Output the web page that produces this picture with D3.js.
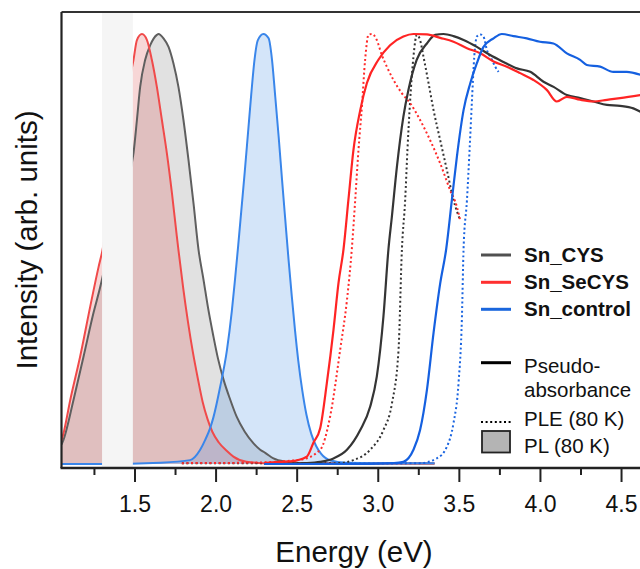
<!DOCTYPE html>
<html><head><meta charset="utf-8">
<script src="https://cdn.jsdelivr.net/npm/d3@7"></script>
<style>
html,body{margin:0;padding:0;background:#fff;}
svg{display:block;font-family:"Liberation Sans",Arial,Helvetica,sans-serif;}
</style></head>
<body><svg id="c" width="640" height="569"></svg>
<script>
// ---------- DATA (energy in eV, normalized intensity) ----------
const cysPL_E = [1.05,1.062,1.124,1.186,1.247,1.289,1.303,1.35,1.40,1.45,1.494,1.515,1.535,1.566,1.597,1.638,1.648,1.679,1.71,1.74,1.771,1.802,1.833,1.864,1.895,1.925,1.955,1.985,2.015,2.05,2.09,2.13,2.18,2.234,2.275,2.306,2.357,2.439,2.522,2.7,3.0,3.35];
const cysPL_I = [0.045,0.056,0.149,0.25,0.351,0.412,0.435,0.51,0.58,0.65,0.723,0.8,0.877,0.94,0.974,0.998,1.0,0.99,0.97,0.932,0.877,0.8,0.707,0.606,0.498,0.43,0.36,0.30,0.245,0.195,0.15,0.11,0.075,0.048,0.033,0.026,0.013,0.005,0.002,0.001,0.001,0.001];

const secysPL_E = [1.05,1.062,1.104,1.165,1.227,1.279,1.303,1.35,1.40,1.45,1.494,1.515,1.546,1.577,1.607,1.638,1.669,1.70,1.731,1.761,1.771,1.80,1.83,1.86,1.89,1.92,1.95,1.98,2.02,2.07,2.11,2.19,2.295,2.5,3.0,3.35];
const secysPL_I = [0.055,0.071,0.149,0.25,0.366,0.459,0.498,0.62,0.74,0.86,0.94,0.986,1.0,0.986,0.94,0.877,0.8,0.722,0.63,0.53,0.498,0.41,0.33,0.26,0.20,0.145,0.105,0.075,0.05,0.03,0.017,0.005,0.002,0.001,0.001,0.001];

const controlPL_E = [1.05,1.3,1.659,1.843,1.905,1.936,1.967,1.987,2.028,2.07,2.10,2.12,2.14,2.16,2.18,2.20,2.22,2.24,2.26,2.295,2.327,2.348,2.368,2.389,2.41,2.43,2.45,2.47,2.49,2.51,2.535,2.56,2.59,2.62,2.65,2.71,2.8,3.0,3.35];
const controlPL_I = [0.0,0.0,0.003,0.009,0.033,0.056,0.084,0.109,0.179,0.265,0.355,0.43,0.51,0.595,0.68,0.77,0.86,0.94,0.985,1.0,0.99,0.94,0.854,0.761,0.66,0.567,0.475,0.39,0.31,0.24,0.17,0.115,0.07,0.042,0.024,0.008,0.003,0.002,0.002];

const cysAbs_E = [2.3,2.45,2.55,2.645,2.727,2.81,2.892,2.953,2.994,3.035,3.066,3.087,3.118,3.158,3.189,3.24,3.303,3.354,3.405,3.467,3.529,3.611,3.693,3.775,3.858,3.94,4.022,4.084,4.166,4.248,4.33,4.413,4.494,4.576,4.62];
const cysAbs_I = [0.0,0.001,0.002,0.005,0.013,0.033,0.079,0.133,0.203,0.343,0.5,0.575,0.691,0.808,0.87,0.94,0.978,0.998,1.0,0.995,0.986,0.97,0.951,0.935,0.92,0.912,0.889,0.877,0.858,0.851,0.843,0.835,0.833,0.827,0.819];

const secysAbs_E = [2.3,2.355,2.459,2.562,2.604,2.645,2.686,2.727,2.758,2.789,2.819,2.85,2.892,2.933,3.004,3.076,3.158,3.22,3.303,3.385,3.467,3.55,3.632,3.714,3.796,3.878,3.96,4.042,4.104,4.166,4.248,4.33,4.413,4.494,4.62];
const secysAbs_I = [0.002,0.004,0.006,0.017,0.05,0.083,0.188,0.312,0.421,0.5,0.614,0.73,0.823,0.886,0.94,0.974,0.994,1.0,0.999,0.991,0.982,0.967,0.955,0.936,0.924,0.909,0.893,0.87,0.843,0.854,0.847,0.843,0.847,0.851,0.858];

const controlAbs_E = [2.3,2.8,3.1,3.158,3.22,3.261,3.303,3.344,3.385,3.422,3.457,3.488,3.529,3.57,3.611,3.652,3.714,3.765,3.837,3.919,4.0,4.083,4.166,4.248,4.289,4.371,4.453,4.535,4.62];
const controlAbs_I = [0.0,0.0,0.002,0.005,0.033,0.079,0.172,0.305,0.42,0.5,0.614,0.715,0.823,0.885,0.932,0.97,0.99,1.0,0.995,0.99,0.982,0.978,0.955,0.94,0.928,0.924,0.912,0.912,0.905];

const cysPLE_E = [1.792,2.2,2.748,2.85,2.953,3.035,3.087,3.128,3.149,3.169,3.183,3.2,3.22,3.241,3.261,3.282,3.313,3.344,3.385,3.426,3.467,3.508];
const cysPLE_I = [0.002,0.002,0.002,0.009,0.033,0.079,0.14,0.265,0.5,0.614,0.73,0.847,0.947,0.998,0.986,0.947,0.886,0.823,0.753,0.684,0.614,0.567];

const secysPLE_E = [1.792,2.213,2.522,2.645,2.706,2.768,2.81,2.84,2.861,2.881,2.902,2.922,2.943,2.964,2.994,3.025,3.056,3.097,3.149,3.2,3.261,3.323,3.385,3.446,3.488,3.508];
const secysPLE_I = [0.002,0.003,0.01,0.033,0.11,0.265,0.381,0.5,0.614,0.73,0.83,0.94,0.998,1.0,0.986,0.951,0.924,0.893,0.862,0.839,0.8,0.753,0.699,0.637,0.598,0.567];

const controlPLE_E = [2.6,3.0,3.261,3.364,3.426,3.467,3.498,3.519,3.529,3.55,3.566,3.581,3.595,3.611,3.632,3.652,3.673,3.704,3.724,3.745];
const controlPLE_I = [0.001,0.001,0.002,0.013,0.04,0.095,0.188,0.342,0.5,0.614,0.73,0.847,0.947,0.994,0.999,0.994,0.963,0.94,0.924,0.912];

const majorTicks = [1.5,2.0,2.5,3.0,3.5,4.0,4.5];
const minorTicks = [1.25,1.75,2.25,2.75,3.25,3.75,4.25];
const maskBand = [1.30,1.49];

const seriesNames = ["Sn_CYS","Sn_SeCYS","Sn_control"];
const typeNames = ["Pseudo-","absorbance","PLE (80 K)","PL (80 K)"];

// ---------- CHART ----------
const svg = d3.select("#c");
const L=61.5, R=640.5, T=12, B=468;
const x = d3.scaleLinear().domain([1.05,4.62]).range([L,R]);
const y = d3.scaleLinear().domain([0,1]).range([464,34]);

svg.append("defs").append("clipPath").attr("id","clip")
  .append("rect").attr("x",L).attr("y",T).attr("width",R-L).attr("height",B-T);

const g = svg.append("g").attr("clip-path","url(#clip)");
const zip = (E,I)=>E.map((e,i)=>[e,I[i]]);
const line = d3.line().x(d=>x(d[0])).y(d=>y(d[1])).curve(d3.curveMonotoneX);
const area = d3.area().x(d=>x(d[0])).y0(y(0)).y1(d=>y(d[1])).curve(d3.curveMonotoneX);

const pl = [
  {d:zip(cysPL_E,cysPL_I), fill:"#8c8c8c", stroke:"#5f5f5f"},
  {d:zip(secysPL_E,secysPL_I), fill:"#e06060", stroke:"#f04a4a"},
  {d:zip(controlPL_E,controlPL_I), fill:"#5a9be8", stroke:"#3a86ea"}
];
pl.forEach(s=>{
  g.append("path").datum(s.d).attr("d",area).attr("fill",s.fill).attr("fill-opacity",0.26);
});
pl.forEach(s=>{
  g.append("path").datum(s.d).attr("d",line).attr("fill","none").attr("stroke",s.stroke).attr("stroke-width",2);
});

const ple = [
  {d:zip(cysPLE_E,cysPLE_I), c:"#333333"},
  {d:zip(secysPLE_E,secysPLE_I), c:"#ff2a2a"},
  {d:zip(controlPLE_E,controlPLE_I), c:"#1a64e0"}
];
ple.forEach(s=>{
  g.append("path").datum(s.d).attr("d",line).attr("fill","none").attr("stroke",s.c)
    .attr("stroke-width",2).attr("stroke-dasharray","2,2.6");
});

const abs = [
  {d:zip(cysAbs_E,cysAbs_I), c:"#353535"},
  {d:zip(secysAbs_E,secysAbs_I), c:"#ff2424"},
  {d:zip(controlAbs_E,controlAbs_I), c:"#1560e0"}
];
abs.forEach(s=>{
  g.append("path").datum(s.d).attr("d",line).attr("fill","none").attr("stroke",s.c).attr("stroke-width",2.2);
});

// masking band
g.append("rect").attr("x",x(maskBand[0])).attr("width",x(maskBand[1])-x(maskBand[0]))
  .attr("y",T+1).attr("height",B-T-2).attr("fill","#f5f5f5");

// frame
svg.append("line").attr("x1",L).attr("x2",R).attr("y1",T).attr("y2",T).attr("stroke","#333").attr("stroke-width",1.8);
svg.append("line").attr("x1",L).attr("x2",L).attr("y1",T).attr("y2",B).attr("stroke","#222").attr("stroke-width",2.2);

// x axis
const ax = svg.append("g").attr("transform",`translate(0,${B})`)
  .call(d3.axisBottom(x).tickValues(majorTicks).tickSize(14).tickPadding(14).tickFormat(d3.format(".1f")));
ax.select(".domain").remove();
ax.append("line").attr("x1",L-1).attr("x2",R).attr("y1",0).attr("y2",0).attr("stroke","#222").attr("stroke-width",2.6);
ax.selectAll(".tick line").attr("stroke","#222").attr("stroke-width",2);
ax.selectAll(".tick text").attr("font-size",23).attr("fill","#111").attr("font-family","Liberation Sans, Arial, sans-serif");
const axm = svg.append("g").attr("transform",`translate(0,${B})`)
  .call(d3.axisBottom(x).tickValues(minorTicks).tickSize(7).tickFormat(""));
axm.select(".domain").remove();
axm.selectAll(".tick line").attr("stroke","#222").attr("stroke-width",2);

// titles
svg.append("text").attr("x",354).attr("y",562).attr("text-anchor","middle")
  .attr("font-size",29.5).attr("fill","#111").text("Energy (eV)");
svg.append("text").attr("transform","translate(37,240) rotate(-90)").attr("text-anchor","middle")
  .attr("font-size",29.5).attr("fill","#111").text("Intensity (arb. units)");

// legend
const lg = svg.append("g");
const legColors = ["#505050","#ff3030","#1a66dd"];
const legY = [255,282.3,309.3];
seriesNames.forEach((n,i)=>{
  lg.append("line").attr("x1",481).attr("x2",511).attr("y1",legY[i]).attr("y2",legY[i])
    .attr("stroke",legColors[i]).attr("stroke-width",3);
  lg.append("text").attr("x",524).attr("y",legY[i]+7).attr("font-size",20.5).attr("font-weight","bold")
    .attr("fill","#111").text(n);
});
lg.append("line").attr("x1",481).attr("x2",511).attr("y1",362.7).attr("y2",362.7).attr("stroke","#000").attr("stroke-width",3);
lg.append("line").attr("x1",481).attr("x2",511).attr("y1",422).attr("y2",422).attr("stroke","#000").attr("stroke-width",2.2).attr("stroke-dasharray","2,2.6");
lg.append("rect").attr("x",482).attr("y",431).attr("width",28).attr("height",21.5).attr("fill","#b4b4b4").attr("stroke","#222").attr("stroke-width",1.8);
const tY = [373.3,397.3,425.7,453.3];
typeNames.forEach((t,i)=>{
  lg.append("text").attr("x",524).attr("y",tY[i]).attr("font-size",20.5).attr("fill","#111").text(t);
});
</script></body></html>
